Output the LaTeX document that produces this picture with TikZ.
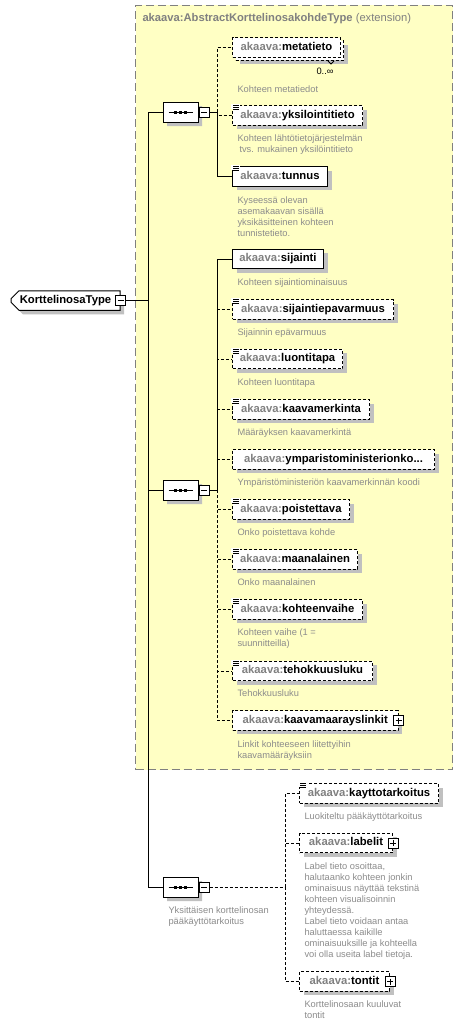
\documentclass[tikz,border=0pt]{standalone}
\usepackage{fontspec}
\setmainfont{Liberation Sans}
\usepackage{xcolor}
\usetikzlibrary{shapes.misc,shadows}
\definecolor{boxyellow}{RGB}{255,255,196}
\definecolor{framegray}{RGB}{128,128,128}
\definecolor{prefixgray}{RGB}{128,128,128}
\definecolor{descgray}{RGB}{140,140,140}
\definecolor{shadowgray}{RGB}{192,192,192}
\newcommand{\namefont}{\fontsize{11.3}{13}\selectfont\bfseries}
\newcommand{\descfont}{\fontsize{9.3}{11}\selectfont}
\newcommand{\ak}[1]{{\color{prefixgray}akaava:}#1}

\begin{document}
\begin{tikzpicture}[x=1pt,y=-1pt,line width=1pt,
  shadowed/.style={drop shadow={shadow xshift=4pt,shadow yshift=-4pt,fill=shadowgray,opacity=1}},
  ebox/.style={draw,fill=white,anchor=west,minimum height=19.5,inner sep=0pt,
    text height=8.2pt,text depth=2.4pt,font=\namefont},
  elem/.style={ebox,shadowed},
  optel/.style={elem,dash pattern=on 3pt off 2pt},
  descr/.style={anchor=north west,inner sep=0pt,align=left,text=descgray,font=\descfont},
  topnode/.style={draw,fill=white,chamfered rectangle,chamfered rectangle corners={north west,south west},
    chamfered rectangle sep=4pt,minimum width=109,minimum height=19.5,inner sep=0pt,
    text height=8.2pt,text depth=2.4pt,font=\namefont,shadowed},
  seqnode/.style={draw,fill=white,chamfered rectangle,chamfered rectangle sep=5pt,
    minimum width=35,minimum height=20,inner sep=0pt,shadowed},
  minusbox/.style={draw,fill=white,minimum size=10,inner sep=0pt,
    path picture={\draw ([xshift=2pt]path picture bounding box.west) -- ([xshift=-2pt]path picture bounding box.east);}},
  plusbox/.style={draw,fill=white,minimum size=10,inner sep=0pt,
    path picture={\draw ([xshift=2pt]path picture bounding box.west) -- ([xshift=-2pt]path picture bounding box.east);
      \draw ([yshift=-2pt]path picture bounding box.north) -- ([yshift=2pt]path picture bounding box.south);}},
  oline/.style={dash pattern=on 3pt off 2pt}]
  \path[use as bounding box,fill=white] (0,0) rectangle (467,1025);

  % extension frame
  \node[draw=framegray,fill=boxyellow,dash pattern=on 8pt off 4pt,anchor=north west,
    minimum width=317,minimum height=764,inner sep=0pt] (ext) at (135,5) {};
  \node[anchor=west,inner sep=0pt,text=prefixgray,font=\fontsize{11.2}{13}\selectfont] (title) at (142,19)
    {\textbf{akaava:AbstractKorttelinosakohdeType} (extension)};

  % root and sequences
  \node[topnode] (kt) at (65.5,300.5) {KorttelinosaType\hspace{9pt}};
  \node[minusbox] (ktpm) at (kt.east) {};
  \node[seqnode] (seq1) at (180.5,112) {};
  \node[seqnode] (seq2) at (180.5,490) {};
  \node[seqnode] (seq3) at (180.5,887) {};
  \foreach \s in {seq1,seq2,seq3} {
    \node[minusbox,anchor=west] (\s pm) at (\s.east) {};
    \draw (\s.center) ++(-12,0) -- ++(24,0);
    \foreach \d in {-5,0,5} \fill ([xshift=\d pt]\s.center) ++(-1.5,-1.5) rectangle ++(3,3);
  }
  \node[descr] (seq3d) at (168,906) {Yksittäisen korttelinosan\\pääkäyttötarkoitus};

  % first sequence
  \node[ebox,dash pattern=on 3pt off 2pt,minimum width=108,shadowed] (meta2) at (235,50.5) {};
  \node[ebox,dash pattern=on 3pt off 2pt,minimum width=108] (meta) at (232,47.5) {\ak{metatieto}};
  \draw[line width=0.8pt] (328,61) -- (331,64) -- (334,61);
  \node[inner sep=0pt,font=\descfont] (mult) at (325,71) {0..∞};
  \node[descr] (metad) at (237,85) {Kohteen metatiedot};
  \node[optel,minimum width=130] (yks) at (232,115.5) {\ak{yksilointitieto}};
  \node[descr] (yksd) at (237,134) {Kohteen lähtötietojärjestelmän\\\hspace{2pt}tvs. mukainen yksilöintitieto};
  \node[elem,minimum width=95] (tunnus) at (232,176.5) {\ak{tunnus}};
  \node[descr] (tunnusd) at (237,196) {Kyseessä olevan\\asemakaavan sisällä\\yksikäsitteinen kohteen\\tunnistetieto.};

  % second sequence
  \node[elem,minimum width=91] (sij) at (232,259) {\ak{sijainti}};
  \node[descr] (sijd) at (237,278.4) {Kohteen sijaintiominaisuus};
  \node[optel,minimum width=161] (sijep) at (232,309.5) {\ak{sijaintiepavarmuus}};
  \node[descr] (sijepd) at (237,328.4) {Sijainnin epävarmuus};
  \node[optel,minimum width=110] (luonti) at (232,359) {\ak{luontitapa}};
  \node[descr] (luontid) at (237,378.4) {Kohteen luontitapa};
  \node[optel,minimum width=137] (kaavam) at (232,409.5) {\ak{kaavamerkinta}};
  \node[descr] (kaavamd) at (237,428.4) {Määräyksen kaavamerkintä};
  \node[optel,minimum width=202] (ymp) at (232,459.5) {\ak{ymparistoministerionko...}};
  \node[descr] (ympd) at (237,478.4) {Ympäristöministeriön kaavamerkinnän koodi};
  \node[optel,minimum width=117] (poist) at (232,509.5) {\ak{poistettava}};
  \node[descr] (poistd) at (237,528.4) {Onko poistettava kohde};
  \node[optel,minimum width=125] (maan) at (232,559.5) {\ak{maanalainen}};
  \node[descr] (maand) at (237,578.4) {Onko maanalainen};
  \node[optel,minimum width=130] (kohde) at (232,609.5) {\ak{kohteenvaihe}};
  \node[descr] (kohded) at (237,628.4) {Kohteen vaihe (1 =\\suunnitteilla)};
  \node[optel,minimum width=140] (tehok) at (232,671) {\ak{tehokkuusluku}};
  \node[descr] (tehokd) at (237,689.4) {Tehokkuusluku};
  \node[optel,minimum width=165.5] (lnk) at (232,720.5) {\ak{kaavamaarayslinkit}};
  \node[plusbox] (lnkpm) at (lnk.east) {};
  \node[descr] (lnkd) at (237,740) {Linkit kohteeseen liitettyihin\\kaavamääräyksiin};

  % third sequence
  \node[optel,minimum width=139] (kaytto) at (299,793.5) {\ak{kayttotarkoitus}};
  \node[descr] (kayttod) at (304,812.4) {Luokiteltu pääkäyttötarkoitus};
  \node[optel,minimum width=93] (labelit) at (299,843) {\ak{labelit}};
  \node[plusbox] (labelitpm) at (labelit.east) {};
  \node[descr] (labelitd) at (304,862.4) {Label tieto osoittaa,\\halutaanko kohteen jonkin\\ominaisuus näyttää tekstinä\\kohteen visualisoinnin\\yhteydessä.\\Label tieto voidaan antaa\\haluttaessa kaikille\\ominaisuuksille ja kohteella\\voi olla useita label tietoja.};
  \node[optel,minimum width=90] (tontit) at (299,981.5) {\ak{tontit}};
  \node[plusbox] (tontitpm) at (tontit.east) {};
  \node[descr] (tontitd) at (304,1000) {Korttelinosaan kuuluvat\\tontit};

  % simple-content marks
  \foreach \n in {yks,tunnus,sijep,luonti,kaavam,poist,maan,kohde,tehok,kaytto} {
    \fill[white] ([shift={(-1pt,1pt)}]\n.north west) rectangle ++(9,5);
    \foreach \k in {0.5,2.5,4.5} \draw[line width=0.8pt] ([shift={(1pt,-\k pt)}]\n.north west) -- ++(6,0);
  }

  % connectors
  \coordinate (rs) at (148,300.5);
  \coordinate (sp1) at (148,112);
  \coordinate (sp3) at (148,887);
  \coordinate (b1) at (217,112);
  \coordinate (b2) at (217,490);
  \coordinate (b3) at (285,887);
  \draw (ktpm.east) -- (rs);
  \draw (sp1) -- (sp3);
  \draw (sp1) -- (seq1.west);  \draw (rs |- seq2.west) -- (seq2.west);  \draw (sp3) -- (seq3.west);
  \draw (seq1pm.east) -- (b1);  \draw (seq2pm.east) -- (b2);
  \draw[oline] (seq3pm.east) -- (b3);
  \foreach \n in {meta,yks} \draw[oline] (b1) |- (\n.west);
  \foreach \n in {sijep,luonti,kaavam,ymp,poist,maan,kohde,tehok,lnk} \draw[oline] (b2) |- (\n.west);
  \foreach \n in {kaytto,labelit,tontit} \draw[oline] (b3) |- (\n.west);
  \draw (b1) |- (tunnus.west);
  \draw (b2) |- (sij.west);
\end{tikzpicture}
\end{document}
